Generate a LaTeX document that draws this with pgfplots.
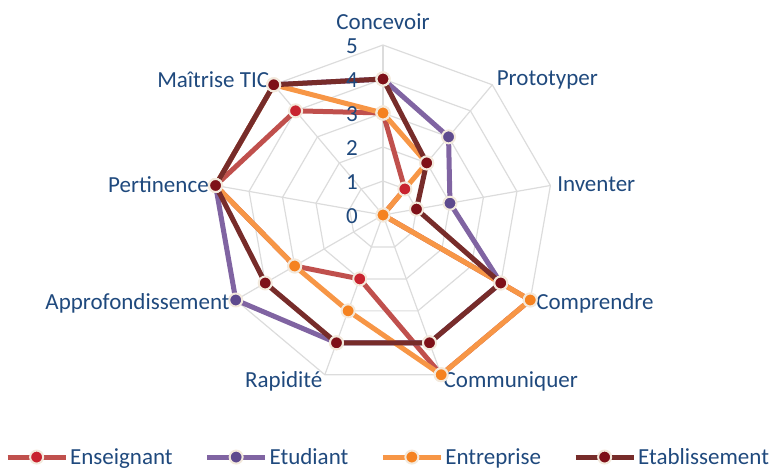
\documentclass[border=0pt]{standalone}
\usepackage{fontspec}
\setmainfont{Carlito}
\usepackage{pgfplots}
\pgfplotsset{compat=1.18}
\usepgfplotslibrary{polar}
\usetikzlibrary{calc}
\definecolor{txtblue}{HTML}{1F497D}
\definecolor{gridc}{HTML}{DCDCDC}
\definecolor{ensL}{HTML}{C0504D}
\definecolor{ensM}{HTML}{C8232F}
\definecolor{etuL}{HTML}{8064A2}
\definecolor{etuM}{HTML}{5E4A8E}
\definecolor{entL}{HTML}{F79646}
\definecolor{entM}{HTML}{F58220}
\definecolor{etaL}{HTML}{772C2A}
\definecolor{etaM}{HTML}{7E1018}
\definecolor{ring}{HTML}{F3E9DC}

\begin{document}
\begin{tikzpicture}[font=\fontsize{23}{27}\selectfont, every node/.style={text=txtblue}]
\begin{polaraxis}[
  scale only axis,
  width=340pt, height=340pt,
  ymin=0, ymax=5,
  hide axis,
  clip=false,
  legend columns=4,
  legend cell align=left,
  legend style={draw=none, fill=none, inner sep=0pt,
    at={(axis description cs:-0.612,-0.212)}, anchor=west,
    /tikz/every even column/.append style={column sep=30pt},
    font=\fontsize{23}{27}\selectfont, text=txtblue},
  legend image code/.code={\draw[mark repeat=2,mark phase=2] plot coordinates {(0pt,0pt) (29pt,0pt) (58pt,0pt)};},
  every axis plot/.append style={line width=5pt, line join=round, mark=*, mark size=6.5pt},
]
% grid rings and spokes
\pgfplotsinvokeforeach{1,2,3,4,5}{
  \addplot[gridc, line width=1.2pt, no marks, forget plot] coordinates {(90,#1) (50,#1) (10,#1) (330,#1) (290,#1) (250,#1) (210,#1) (170,#1) (130,#1) (90,#1)};
}
\pgfplotsinvokeforeach{90,50,10,330,290,250,210,170,130}{
  \addplot[gridc, line width=1.2pt, no marks, forget plot] coordinates {(0,0) (#1,5)};
}

% order: Concevoir, Prototyper, Inventer, Comprendre, Communiquer, Rapidite, Approfondissement, Pertinence, Maitrise TIC
\addplot[ensL, mark options={fill=ensM, draw=ring, line width=2pt}] coordinates {
  (90,3) (50,1) (10,0) (330,5) (290,5) (250,2) (210,3) (170,5) (130,4) (90,3)};
\addlegendentry{Enseignant}
\addplot[etuL, mark options={fill=etuM, draw=ring, line width=2pt}] coordinates {
  (90,4) (50,3) (10,2) (330,4) (290,4) (250,4) (210,5) (170,5) (130,5) (90,4)};
\addlegendentry{Etudiant}
\addplot[entL, mark options={fill=entM, draw=ring, line width=2pt}] coordinates {
  (90,3) (50,2) (10,0) (330,5) (290,5) (250,3) (210,3) (170,5) (130,5) (90,3)};
\addlegendentry{Entreprise}
\addplot[etaL, mark options={fill=etaM, draw=ring, line width=2pt}] coordinates {
  (90,4) (50,2) (10,1) (330,4) (290,4) (250,4) (210,4) (170,5) (130,5) (90,4)};
\addlegendentry{Etablissement}

% value labels
\pgfplotsinvokeforeach{0,1,2,3,4,5}{
  \node[anchor=east, inner sep=0pt, xshift=-25pt, yshift=-1pt] at (axis cs:90,#1) {#1};
}
% category labels
\node[anchor=base, inner sep=0pt] at (axis cs:90,5.47) {Concevoir};
\node[anchor=west, inner sep=0pt] at (axis cs:50,5.2) {Prototyper};
\node[anchor=west, inner sep=0pt] at (axis cs:10,5.2) {Inventer};
\node[anchor=west, inner sep=0pt] at (axis cs:330,5.2) {Comprendre};
\node[anchor=west, inner sep=0pt] at (axis cs:290,5.2) {Communiquer};
\node[anchor=east, inner sep=0pt] at (axis cs:250,5.2) {Rapidité};
\node[anchor=east, inner sep=0pt] at (axis cs:210,5.2) {Approfondissement};
\node[anchor=east, inner sep=0pt] at (axis cs:170,5.2) {Pertinence};
\node[anchor=east, inner sep=0pt] at (axis cs:130,5.2) {Maîtrise TIC};
\coordinate (c) at (axis cs:0,0);
\end{polaraxis}
\pgfresetboundingbox
\path[use as bounding box] ($(c)+(-383pt,-256pt)$) rectangle ($(c)+(387pt,215pt)$);
\end{tikzpicture}
\end{document}
